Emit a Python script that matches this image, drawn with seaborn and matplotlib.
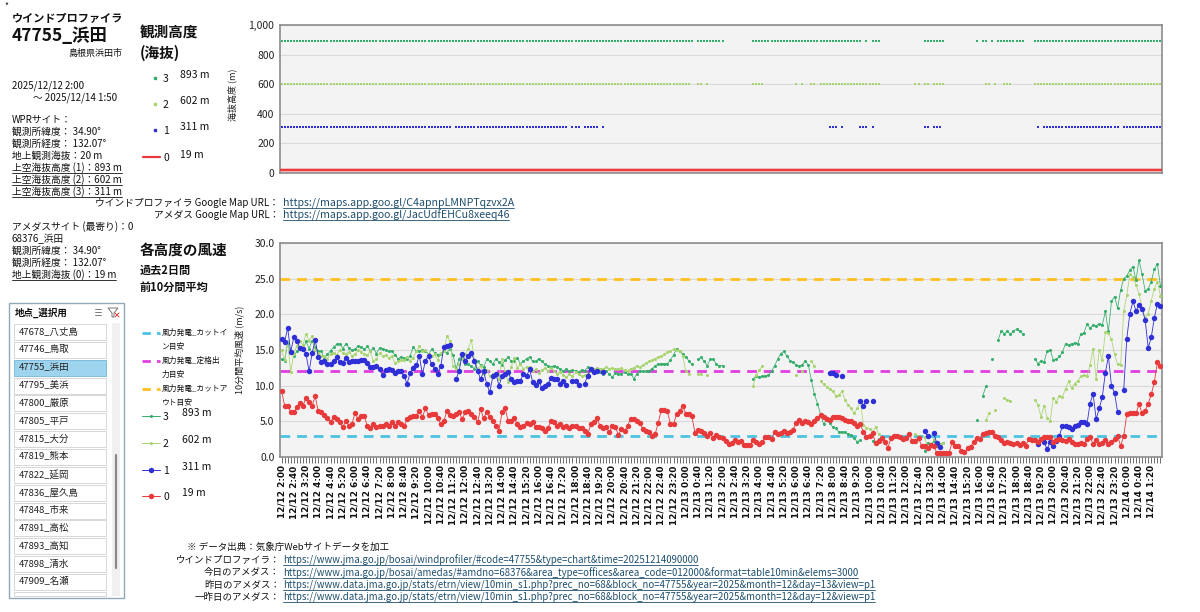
import numpy as np
import pandas as pd
import matplotlib
matplotlib.use("Agg")
import matplotlib.pyplot as plt
from matplotlib.lines import Line2D
from matplotlib.patches import Rectangle, Polygon
import seaborn as sns

# ---- data: 10-minute mean wind speed, 12/12 2:00 - 12/14 1:50 (288 samples) ----
times = pd.date_range("2025-12-12 02:00", periods=288, freq="10min")
tick_labels = [f"{t.month}/{t.day} {t.hour}:{t.minute:02d}" for t in times]

heights = [893, 602, 311, 19]          # 3, 2, 1, 0
levels = ["3", "2", "1", "0"]
cut_in, rated, cut_out = 3.0, 12.0, 25.0

# 0 : 19 m (AMeDAS)
ws0 = ([9.3, 7.2, 7.2, 6.3, 6.3, 7.0, 7.6, 7.2, 8.3, 7.7, 7.2, 8.5, 6.4, 6.3, 5.9, 5.4, 4.9, 5.6, 5.3, 4.9,
        4.2, 5.0, 4.4, 4.6, 6.2, 5.3, 5.8, 5.7, 4.4, 4.1, 4.6, 4.2, 4.4, 4.3, 4.6, 4.4, 4.9, 4.4, 4.9, 4.6,
        4.3, 5.3, 5.6, 5.7, 5.8, 6.4, 5.6, 6.8, 5.9, 6.0, 6.0, 5.5, 4.6, 5.0, 6.5, 5.9, 5.7, 6.0, 6.3, 5.3,
        6.3, 6.5, 6.0, 5.6, 4.9, 6.7, 5.4, 6.3, 5.6, 5.0, 4.4, 3.7]
       + [6.3, 6.9, 5.0, 5.0, 5.4, 4.6, 4.2, 4.4, 4.8, 4.6, 4.9, 4.2, 4.2, 4.0, 3.6, 4.1, 5.0, 4.9, 4.4, 4.6,
          4.2, 4.3, 4.1, 4.4, 4.4, 4.0, 4.1, 3.6, 3.2, 4.6, 4.9, 5.4, 4.4, 4.0, 4.2, 3.5, 4.3, 4.2, 3.1, 3.9,
          3.6, 4.4, 5.3, 5.3, 5.0, 4.8, 3.9, 3.6, 3.5, 3.0, 3.2, 4.8, 6.6, 6.6, 6.4, 4.6, 4.6, 6.0, 6.4, 7.2,
          6.0, 6.0, 5.7, 3.4, 3.8, 3.7, 3.4, 3.0, 3.3, 2.6, 3.1, 2.8]
       + [2.6, 2.2, 1.8, 1.9, 2.4, 2.1, 2.3, 1.7, 1.7, 1.7, 2.4, 2.1, 1.8, 2.1, 2.85, 2.85, 2.5, 3.5, 3.2,
          3.4, 3.7, 3.4, 3.55, 3.8, 4.7, 5.2, 4.7, 5.0, 4.9, 4.6, 5.0, 5.4, 5.9, 5.65, 5.3, 5.2, 5.65, 5.55, 5.55,
          5.5, 5.2, 5.05, 5.0, 4.7, 4.4, 4.6, 3.5, 2.85, 3.0, 3.3, 1.9, 2.2, 2.6, 2.15, 1.3, 2.6, 3.0, 2.95, 2.85,
          2.5, 2.7, 3.2, 2.2, 2.2, 2.6, 1.6, 1.6, 1.2, 1.7, 1.6, 0.5]
       + [0.6, 0.6, 0.6, 0.6]
       + [2.15, 1.6, 1.6, 0.9, 0.65, 1.2, 1.45, 2.15, 2.7, 2.5, 3.2, 3.4, 3.45, 3.45, 2.95, 2.85, 2.4, 2.0, 2.15, 1.9,
          1.8, 2.0, 1.7, 1.9, 1.6, 2.5, 2.4, 2.4, 2.15, 2.5, 2.75, 2.85, 2.85, 2.15, 2.4, 2.5, 2.4, 2.25, 2.5, 2.15,
          1.8, 1.8, 2.0, 1.8, 2.5, 2.85, 1.8, 2.4, 1.8, 2.0, 2.4, 1.8, 2.15, 2.5, 2.95, 1.55, 2.95]
       + [6.0, 6.1, 6.1, 6.1, 7.4, 6.1, 6.5, 7.5, 8.8, 10.5, 13.3, 12.8])

# 1 : 311 m
ws1 = ([16.5, 16.1, 18.1, 14.7, 16.8, 16.3, 15.3, 15.2, 14.4, 12.0, 14.6, 16.4, 14.0, 13.3, 13.5, 13.0, 13.1, 13.4,
        14.0, 13.3, 13.2, 13.9, 13.3, 13.5, 13.4, 13.5, 13.55, 13.6, 13.2, 12.6, 12.6, 12.75, 12.3, 11.45, 12.15, 12.3,
        12.2, 11.8, 12.1, 12.0, 11.3, 10.3, 11.8, 12.5, 12.9, 14.2, 11.6, 13.5, 14.2, 13.0, 12.4, 11.7, 12.75, 15.4,
        15.55, 15.7]
       + [None]
       + [10.9, 12.1, 14.5, 13.5, 14.1, 14.6, 13.4, 12.1, 10.9, 12.0, 10.2, 9.1, 11.3, 11.7, 10.0]
       + [11.3, 11.7, 11.9, 10.9, 10.5, 10.7, 10.7, 11.7, 11.35, 12.3, 10.5, 10.05, 10.65, 9.7, 9.95, 10.2, 11.1,
          10.9, 10.9, 10.3, 10.65, 10.1]
       + [None, 10.7, 10.6, 10.1, None, 10.3, 11.4, 12.4, 11.9, 12.0, None, 11.9]
       + [None] * 73
       + [11.8, 11.8, 11.5, None, 11.4] + [None] * 5
       + [7.9, 7.2, 7.9, None, 7.9] + [None] * 16
       + [3.6, 2.9, None, 3.3, 1.9, 1.4] + [None] * 31
       + [1.8, None]
       + [2.05, 1.1, 2.15, 1.5, 2.3, 3.0, 4.35, 4.3, 4.2, 3.9, 4.3, 4.5, 4.95, 4.85, 4.6, 7.5, 8.9, 5.3, 6.8, 8.4,
          11.8, 14.1, 10.0, 9.0, 6.3]
       + [None]
       + [9.4, 16.6, 20.1, 21.8, 20.5, 21.3, 20.8, 19.2, 15.3, 16.8, 19.5, 21.5, 21.2])

# 2 : 602 m
ws2 = ([15.0, 13.6, 16.2, 11.9, 14.5, 15.6, 16.2, 15.7, 17.3, 16.3, 17.0, 15.0, 14.6, 14.2, 14.1, 13.8, 14.5, 14.6,
        14.3, 15.0, 14.6, 14.5, 14.7, 14.2, 14.4, 15.0, 14.7, 14.4, 14.3, 14.8, 13.4, 13.8, 14.6, 14.1, 14.3, 13.9,
        14.1, 13.2, 13.4, 13.6, 13.6, 14.0, 13.5, 13.9, 14.8, 15.5, 14.8, 15.0, 14.4, 14.1, 14.4, 13.6, 14.6, 14.9,
        17.0, 16.2, 12.7, 12.3, 13.0, 13.8, 14.4, 15.2, 16.4, 13.6, 12.4, 12.8, 11.7, 12.2, 11.3, 11.6, 11.7, 11.0]
       + [13.8, 12.0, 10.5, 12.6, 13.9, 12.5, 13.0, 12.4, 12.6, 12.6, 12.0, 12.3, 11.8, 12.2, 12.5, 12.0, 12.5,
          12.1, 11.7, 11.9, 11.5, 11.2, 11.6, 11.4, 11.9, 11.7, 11.3, 11.5, 11.6, 12.0, 12.3, 12.5, 12.4, 12.3,
          12.6, 12.4, 12.5, 12.4, 12.3, 12.5, 12.2, 12.1, 12.4, 12.5, 12.8, 12.6, 12.9, 13.2, 13.4, 13.6, 13.8,
          14.0, 14.1, 14.4, 14.7, 14.9, 15.1, 15.0, 14.9, 14.2, 12.0, 11.7]
       + [None, None, 11.6, 11.6, None, 11.5] + [None] * 14
       + [10.0, 11.5, 12.2, 12.7] + [None] * 10
       + [11.5, None, 12.0, None, None, 13.5, 12.8, None]
       + [10.6, 10.2, 9.85, 9.5, 9.2, 8.6, 8.7, 9.2, 8.0, 7.3, 6.8, 6.1, 6.8, 7.9, 4.5, 4.1, 3.9, 3.55, 4.25, 3.2]
       + [None] * 11
       + [3.2, 3.0, None, 2.8, 1.2, None, 2.5, 2.1, 1.8, 1.9] + [None] * 13
       + [5.2, 6.1, None, 6.6, None, None, 8.3, 8.0, 7.85] + [None] * 7
       + [8.0, 7.3, 5.65, 7.2, 5.5, 5.1, 8.3, 7.75, 8.6, 8.4, 9.6, 10.6, 9.7, 10.3, 10.7, 11.3, 11.5, 11.3, 12.9,
          15.2, 10.9, 15.0, 13.6, 17.5, 17.4, 16.5, 14.4, 13.0, 12.9, 20.4, 22.7, 25.6, 25.3, 24.1, 22.9, 20.9,
          19.5, 20.1, 21.9, 23.6, 24.6, 22.6])

# 3 : 893 m
ws3 = ([13.7, 13.5, 16.0, 14.6, 14.2, 14.8, 15.3, 15.0, 16.2, 15.2, 16.3, 15.4, 14.9, 14.8, 13.8, 14.4, 14.9, 15.4,
        15.8, 15.9, 15.2, 15.9, 15.3, 15.0, 15.1, 15.6, 15.4, 15.1, 15.5, 14.9, 15.3, 14.5, 15.3, 15.2, 15.0, 14.8,
        14.9, 14.3, 13.8, 14.0, 13.9, 13.7, 14.2, 15.4, 14.9, 14.9, 15.0, 14.8, 14.4, 15.1, 14.6, 14.3, 14.5, 14.9,
        14.6, 15.2, 14.3, 12.4, 13.8, 14.2, 13.1, 13.0, 12.7, 12.4, 13.4, 12.9, 12.6, 13.7, 13.4, 13.0, 13.8, 13.3]
       + [12.9, 13.6, 14.0, 13.4, 13.4, 13.9, 13.1, 13.4, 13.8, 14.0, 13.4, 13.4, 13.8, 13.4, 13.0, 12.8, 12.6,
          12.8, 12.6, 12.3, 12.1, 12.3, 12.0, 12.2, 12.1, 11.9, 12.2, 12.1, 12.6, 12.0, 12.2, 12.0, 11.9, 11.6,
          12.1, 11.6, 11.2, 11.8, 11.7, 11.6, 11.9, 11.6, 11.7, 11.0, 11.6, 12.1, 12.0, 12.0, 12.1, 12.4, 12.8,
          13.0, 13.1, 13.1, 13.1, 13.6, 14.3, 15.2, 14.9, 14.4, 14.0, 13.5, 13.0]
       + [None]
       + [13.7, 14.0, 13.4, 12.8, 13.7, 13.7, 13.0, 12.8, 12.8] + [None] * 9
       + [11.0, 11.3, 11.2, 11.3, 11.4, 11.5, 12.0, 12.8, 13.7, 14.5, 14.8, 14.2, 13.5, 13.3, 12.9, 12.8, 12.9,
          13.5, 12.9, 10.8, 8.8, 7.5, 6.0, 4.6, 5.3, 4.7, 4.2, 4.0, 3.5, 3.55, 3.5, 3.2, 3.1, 2.6, 2.15, 2.4]
       + [None, 3.0, None, 2.3, 2.0, 2.5] + [None] * 14
       + [0.9, 2.0, 1.8, 2.2, 1.5, 1.8, 2.0] + [None] * 10
       + [5.2, None, 8.6, 9.9, None, 13.7, None]
       + [16.4, 17.7, 17.3, 17.6, 17.2, 17.7, 17.9, 17.6, 17.3] + [None] * 3
       + [13.8, 13.1, 13.5, 13.3, 14.9, 15.0, 13.6, 13.7, 14.1, 14.7, 15.9, 15.7, 15.9, 16.0, 15.9, 17.3, 17.4,
          18.6, 18.1, 18.5, 18.4, 18.7, 18.5, 20.4, 17.6, 21.8, 22.5, 20.9, 23.4, 25.0, 25.4, 26.2, 26.7, 24.8,
          27.6, 25.6, 23.3, 23.6, 24.6, 26.4, 27.0, 24.0])

series = [ws3, ws2, ws1, ws0]
colors = ["#35ad6b", "#a8d46f", "#2f2fd8", "#e8393b"]
line_c = {"cut_in": "#4cc3e2", "rated": "#e13fe0", "cut_out": "#ffc01e"}

# ---- style ----
sns.set_theme(style="white")
plt.rcParams["font.family"] = ["Noto Sans CJK JP", "DejaVu Sans"]
plt.rcParams["axes.unicode_minus"] = False

fig = plt.figure(figsize=(12, 6.12), dpi=100)
W, H = 1200, 612


def fx(x):
    return x / W


def fy(y):
    return 1 - y / H


def txt(x, y, s, size=7, weight="normal", ha="left", color="#111111", **kw):
    return fig.text(fx(x), fy(y), s, fontsize=size, fontweight=weight, ha=ha, va="center",
                    color=color, **kw)


underlined = []

ax1 = fig.add_axes([fx(280), fy(173), 882 / W, 148 / H])
ax2 = fig.add_axes([fx(280), fy(457), 882 / W, 214 / H])
x = np.arange(len(times))

# ---- top chart: observation heights ----
for vals, h, c in zip(series[:3], heights[:3], colors[:3]):
    s = pd.Series(vals, dtype=float)
    ok = s.notna().to_numpy()
    sns.scatterplot(x=x[ok], y=np.full(ok.sum(), h), color=c, s=4, marker="s",
                    linewidth=0, ax=ax1, legend=False, zorder=3)
ax1.axhline(heights[3], color="#f3b5b5", lw=3.5, zorder=2)
ax1.axhline(heights[3], color=colors[3], lw=1.4, zorder=3)
ax1.set_xlim(-0.5, len(times) - 0.5)
ax1.set_ylim(0, 1000)
ax1.set_yticks(range(0, 1001, 200))
ax1.set_yticklabels([f"{v:,}" for v in range(0, 1001, 200)], fontsize=7.5, color="#222222")
ax1.set_xticks([])
ax1.set_ylabel("海抜高度 (m)", fontsize=6.5, color="#222222")
ax1.yaxis.set_label_coords((237 - 280) / 882, 0.53)

# ---- bottom chart: wind speed ----
for name, val in [("cut_in", cut_in), ("rated", rated), ("cut_out", cut_out)]:
    ax2.axhline(val, color=line_c[name], lw=2.0, linestyle=(0, (3.5, 2.5)), zorder=2)

styles = [dict(markersize=2.2, lw=0.55), dict(markersize=2.2, lw=0.55),
          dict(markersize=3.9, lw=0.6), dict(markersize=3.9, lw=0.6)]
for vals, c, st in zip(series, colors, styles):
    s = pd.Series(vals, dtype=float)
    df = pd.DataFrame({"x": x, "v": s, "seg": s.isna().cumsum()}).dropna()
    sns.lineplot(data=df, x="x", y="v", units="seg", estimator=None, sort=False, color=c,
                 marker="o", markeredgewidth=0, markeredgecolor=c, ax=ax2, legend=False,
                 zorder=3, alpha=1.0, **st)

ax2.set_xlim(-0.5, len(times) - 0.5)
ax2.set_ylim(0, 30)
ax2.set_yticks(np.arange(0, 30.1, 5))
ax2.set_yticklabels([f"{v:.1f}" for v in np.arange(0, 30.1, 5)], fontsize=7.5, color="#222222")
ax2.set_xticks(x)
ax2.set_xticklabels([lab if i % 4 == 0 else "" for i, lab in enumerate(tick_labels)],
                    rotation=90, fontsize=6.4, fontweight="bold", family="DejaVu Sans",
                    color="#111111")
ax2.tick_params(axis="x", length=4, width=0.6, color="#555555", pad=2, bottom=True)
ax2.set_xlabel("")
ax2.set_ylabel("10分間平均風速 (m/s)", fontsize=6.5, color="#222222")
ax2.yaxis.set_label_coords((244 - 280) / 882, 0.5)

for ax in (ax1, ax2):
    ax.set_facecolor("#f3f3f3")
    ax.set_axisbelow(True)
    ax.yaxis.grid(True, color="#dadada", lw=0.8)
    ax.xaxis.grid(False)
    for sp in ax.spines.values():
        sp.set_visible(True)
        sp.set_color("#8c8c8c")
        sp.set_linewidth(1.2)
    ax.tick_params(axis="y", length=0, pad=4)

# ---- left info panel ----
txt(4, 6, "*", size=6)
txt(12, 18, "ウインドプロファイラ", size=8, weight="bold")
txt(12, 36, "47755_浜田", size=12.5, weight="bold")
txt(122, 53, "島根県浜田市", size=6.5, ha="right")
txt(12, 86, "2025/12/12 2:00", size=7)
txt(33, 98, "～ 2025/12/14 1:50", size=7)
txt(12, 120, "WPRサイト：", size=7)
txt(12, 132, "観測所緯度： 34.90°", size=7)
txt(12, 144, "観測所経度： 132.07°", size=7)
txt(12, 156, "地上観測海抜：20 m", size=7)
for k, (yy, h) in enumerate(zip([168, 180, 192], heights[:3])):
    underlined.append(txt(12, yy, f"上空海抜高度 ({k + 1})：{h} m", size=7))
txt(12, 227, "アメダスサイト (最寄り)：0", size=7)
txt(12, 239, "68376_浜田", size=7)
txt(12, 251, "観測所緯度： 34.90°", size=7)
txt(12, 263, "観測所経度： 132.07°", size=7)
underlined.append(txt(12, 275, "地上観測海抜 (0)：19 m", size=7))

# top legend
txt(140, 32, "観測高度", size=10.5, weight="bold")
txt(140, 53, "(海抜)", size=10.5, weight="bold")
for yy, lev, h, c in zip([78, 104, 130], levels[:3], heights[:3], colors[:3]):
    fig.add_artist(Line2D([fx(155)], [fy(yy)], marker="s", markersize=2.0, color=c, lw=0))
    txt(163, yy + 1, lev, size=7.5)
    txt(180, yy - 3, f"{h} m", size=7.5)
fig.add_artist(Line2D([fx(143), fx(160)], [fy(157), fy(157)], color=colors[3], lw=1.6))
txt(163, 158, levels[3], size=7.5)
txt(180, 155, f"{heights[3]} m", size=7.5)

# map links
url_c = "#1f4f6e"
txt(279, 203, "ウインドプロファイラ Google Map URL：", size=7, ha="right")
underlined.append(txt(283, 203, "https://maps.app.goo.gl/C4apnpLMNPTqzvx2A", size=7.6, color=url_c))
txt(279, 215, "アメダス Google Map URL：", size=7, ha="right")
underlined.append(txt(283, 215, "https://maps.app.goo.gl/JacUdfEHCu8xeeq46", size=7.6, color=url_c))

# bottom legend
txt(140, 250, "各高度の風速", size=10.5, weight="bold")
txt(140, 270, "過去2日間", size=8, weight="bold")
txt(140, 287, "前10分間平均", size=8, weight="bold")
ref_items = [(333, "風力発電_カットイ", "ン目安", line_c["cut_in"]),
             (361, "風力発電_定格出", "力目安", line_c["rated"]),
             (389, "風力発電_カットア", "ウト目安", line_c["cut_out"])]
for yy, l1, l2, c in ref_items:
    fig.add_artist(Line2D([fx(142), fx(160)], [fy(yy), fy(yy)], color=c, lw=2,
                          linestyle=(0, (3, 2.2))))
    txt(162, yy, l1, size=5.6)
    txt(162, yy + 14, l2, size=5.6)
for yy, lev, h, c, ms in zip([416, 443, 470, 496], levels, heights, colors, [2.2, 2.2, 3.9, 3.9]):
    fig.add_artist(Line2D([fx(142), fx(160)], [fy(yy), fy(yy)], color=c, lw=0.7))
    fig.add_artist(Line2D([fx(151)], [fy(yy)], marker="o", markersize=ms, color=c,
                          markeredgewidth=0, lw=0))
    txt(163, yy + 1, lev, size=7.5)
    txt(182, yy - 3, f"{h} m", size=7.5)

# footer sources
txt(187, 547, "※ データ出典：気象庁Webサイトデータを加工", size=6.8)
src_items = [(560, "ウインドプロファイラ：",
              "https://www.jma.go.jp/bosai/windprofiler/#code=47755&type=chart&time=20251214090000"),
             (573, "今日のアメダス：",
              "https://www.jma.go.jp/bosai/amedas/#amdno=68376&area_type=offices&area_code=012000&format=table10min&elems=3000"),
             (585, "昨日のアメダス：",
              "https://www.data.jma.go.jp/stats/etrn/view/10min_s1.php?prec_no=68&block_no=47755&year=2025&month=12&day=13&view=p1"),
             (597, "一昨日のアメダス：",
              "https://www.data.jma.go.jp/stats/etrn/view/10min_s1.php?prec_no=68&block_no=47755&year=2025&month=12&day=12&view=p1")]
for yy, lab, url in src_items:
    txt(280, yy, lab, size=6.8, ha="right")
    underlined.append(txt(283, yy, url, size=6.95, color=url_c))

# ---- station list box ----
stations = ["47678_八丈島", "47746_鳥取", "47755_浜田", "47795_美浜", "47800_厳原", "47805_平戸",
            "47815_大分", "47819_熊本", "47822_延岡", "47836_屋久島", "47848_市来", "47891_高松",
            "47893_高知", "47898_清水", "47909_名瀬"]
selected = "47755_浜田"


def frect(x0, y0, x1, y1, **kw):
    r = Rectangle((fx(x0), fy(y1)), fx(x1) - fx(x0), fy(y0) - fy(y1), transform=fig.transFigure, **kw)
    fig.add_artist(r)
    return r


frect(9, 303, 124, 598, facecolor="white", edgecolor="#8fa9b8", lw=1.0)
txt(15, 313, "地点_選択用", size=6.8, weight="bold")
for k in range(3):
    fig.add_artist(Line2D([fx(95), fx(101)], [fy(309 + 3 * k), fy(309 + 3 * k)], color="#666666", lw=0.6))
fig.add_artist(Polygon([(fx(108), fy(308)), (fx(118), fy(308)), (fx(114), fy(313)), (fx(114), fy(317)),
                        (fx(112), fy(317)), (fx(112), fy(313))], closed=True, transform=fig.transFigure,
                       facecolor="none", edgecolor="#666666", lw=0.6))
fig.add_artist(Line2D([fx(115), fx(119)], [fy(313), fy(317)], color="#d04040", lw=0.7))
fig.add_artist(Line2D([fx(115), fx(119)], [fy(317), fy(313)], color="#d04040", lw=0.7))
frect(112, 323, 120, 596, facecolor="#f0f0f0", edgecolor="none")
fig.add_artist(Line2D([fx(115.5), fx(115.5)], [fy(455), fy(568)], color="#8a8a8a", lw=1.6))
for k, name in enumerate(stations + [""]):
    yc = 332 + 17.85 * k
    if yc > 600:
        break
    fc = "#9fd4ee" if name == selected else "white"
    ec = "#7fbcdc" if name == selected else "#d7d7d7"
    y_top, y_bot = yc - 8, min(yc + 8, 596)
    frect(14, y_top, 106, y_bot, facecolor=fc, edgecolor=ec, lw=0.7)
    if name:
        txt(19, yc, name, size=6.8, color="#222222")

# underlines under link-style texts
renderer = fig.canvas.get_renderer()
for t in underlined:
    bb = t.get_window_extent(renderer)
    yline = (bb.y0 + 0.5) / fig.bbox.height
    fig.add_artist(Line2D([bb.x0 / fig.bbox.width, bb.x1 / fig.bbox.width], [yline, yline],
                          color=t.get_color(), lw=0.6))

fig.savefig("out.png", dpi=100, facecolor="white")
